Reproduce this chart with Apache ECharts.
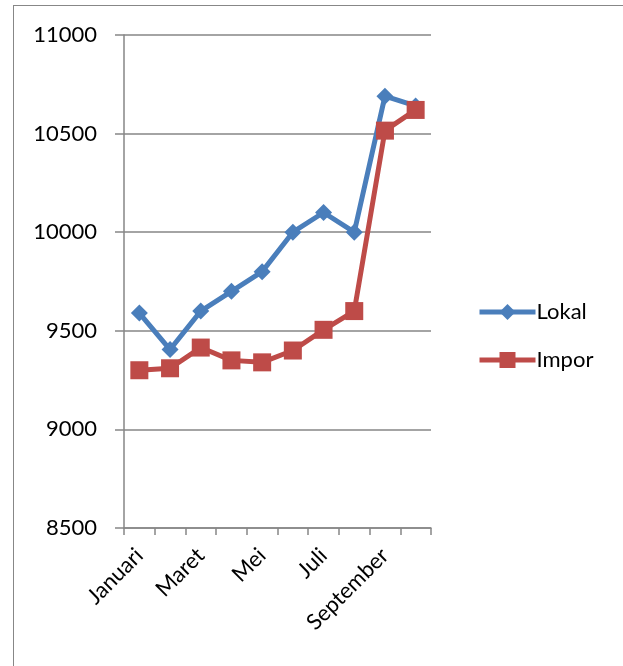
<!DOCTYPE html>
<html><head><meta charset="utf-8">
<script src="https://cdn.jsdelivr.net/npm/echarts@6/dist/echarts.min.js"></script>
<style>
html,body{margin:0;padding:0;background:#fff;}
#wrap{position:absolute;left:13px;top:5px;width:640px;height:700px;border:1px solid #878787;box-sizing:border-box;}
#c{position:absolute;left:0;top:0;width:623px;height:666px;}
</style></head>
<body>
<div id="wrap"></div>
<div id="c"></div>
<script>
var categories = ['Januari','Februari','Maret','April','Mei','Juni','Juli','Agustus','September','Oktober'];
var lokal = [9590, 9405, 9600, 9700, 9800, 10000, 10100, 10000, 10690, 10640];
var impor = [9300, 9310, 9415, 9350, 9340, 9400, 9505, 9600, 10515, 10620];
var seriesNames = ['Lokal','Impor'];

var font = 'Lato, "Open Sans", sans-serif';
var chart = echarts.init(document.getElementById('c'));
chart.setOption({
  animation:false,
  grid:{left:124, right:192, top:35, bottom:138, containLabel:false, outerBoundsMode:'none'},
  legend:{
    orient:'vertical', left:472, top:296,
    itemWidth:56, itemHeight:20, itemGap:26,
    lineStyle:{width:5},
    textStyle:{fontFamily:font, fontSize:22, color:'#000', padding:[0,0,0,-4]},
    data:[{name:'Lokal'},{name:'Impor'}]
  },
  xAxis:{
    type:'category', data:categories, boundaryGap:true,
    axisLine:{lineStyle:{color:'#868686', width:1.5}},
    axisTick:{show:true, length:7, interval:0, lineStyle:{color:'#868686', width:1.5}},
    axisLabel:{interval:1, rotate:45, fontFamily:font, fontSize:22, color:'#000', margin:24, hideOverlap:false}
  },
  yAxis:{
    type:'value', min:8500, max:11000, interval:500,
    axisLine:{show:true, lineStyle:{color:'#868686', width:1.5}},
    axisTick:{show:true, length:9, lineStyle:{color:'#868686', width:1.5}},
    axisLabel:{fontFamily:font, fontSize:22, color:'#000', margin:27, formatter:function(v){return String(v);}},
    splitLine:{lineStyle:{color:'#868686', width:1.5}}
  },
  series:[
    {name:seriesNames[0], type:'line', data:lokal, symbol:'diamond', symbolSize:17,
     lineStyle:{color:'#4A7EBB', width:5}, itemStyle:{color:'#4A7EBB'}, z:2},
    {name:seriesNames[1], type:'line', data:impor, symbol:'rect', symbolSize:18,
     lineStyle:{color:'#BE4B48', width:5}, itemStyle:{color:'#BE4B48'}, z:3}
  ]
});
</script>
</body></html>
